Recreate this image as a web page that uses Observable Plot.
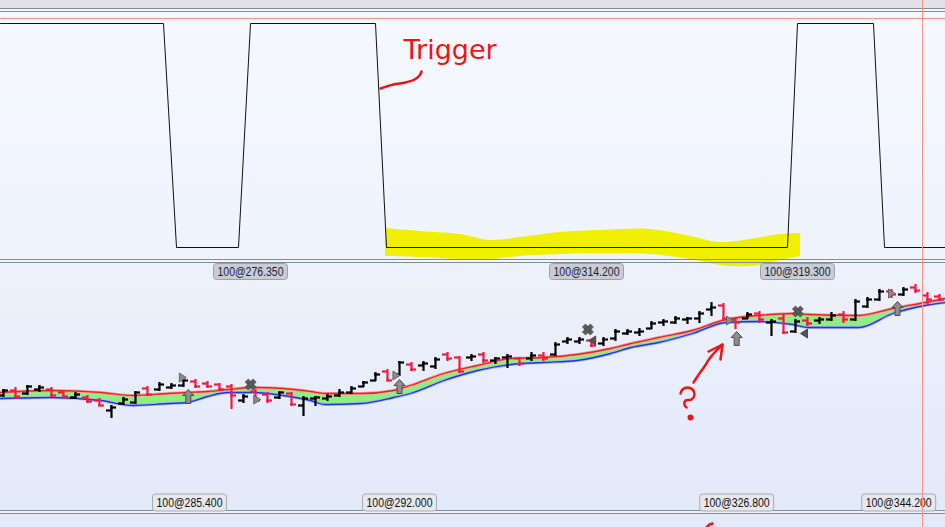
<!DOCTYPE html>
<html><head><meta charset="utf-8">
<script src="https://cdn.jsdelivr.net/npm/d3@7"></script>
<script src="https://cdn.jsdelivr.net/npm/@observablehq/plot@0.6"></script>
<style>
html,body{margin:0;padding:0;background:#e3eaf9;overflow:hidden;}
#wrap{position:relative;width:945px;height:527px;overflow:hidden;background:#e3eaf9;}
.abs{position:absolute;left:0;width:945px;}
.hl{position:absolute;left:0;width:945px;height:1px;background:#7e8e98;}
svg{display:block}
</style></head><body>
<div id="wrap">
 <div class="abs" style="top:0;height:8px;background:#e1e2e8"></div>
 <div class="abs" style="top:9px;height:2px;background:#f5f7fb"></div>
 <div class="abs" style="top:12px;height:247px;background:linear-gradient(#f5f8fe,#eff3fc)"></div>
 <div class="abs" style="top:260px;height:2px;background:#f3f5fa"></div>
 <div class="abs" style="top:263px;height:247px;background:linear-gradient(#edf1fb,#e2e9f9)"></div>
 <div class="abs" style="top:511px;height:2px;background:#eef1f7"></div>
 <div class="abs" style="top:514px;height:13px;background:#e2eaf9"></div>
</div>
<script>
// ---------- top panel: trigger ----------
const triggerT = [0,163,176,238,250,375,386,787,797,873,884,945];
const triggerV = [1,1,0,0,1,1,0,0,1,1,0,0];
const topTickPos = [250,586,797];
const topTickLabels = ["100@276.350","100@314.200","100@319.300"];

// ---------- bottom panel: price bars ----------
const barOpen  = [25,30,27,31,31,28,23,23,20,10, 17,18,32,31,33,35,39,37,36,34, 20,29,26,23,27,15,22,22,25,28, 34,40,49,46,56,55,54,66,63,63, 66,60,63,62,62,65,66,79,79,80, 77,82,87,88,92,98,98,101,102,111, 115,101,102,107,98,102,89,100,100,101, 106,101,114,121,129,126,133,125,124];
const barClose = [30,24,34,33,25,24,26,19,15,13, 21,28,26,36,35,40,34,34,31,25, 24,20,20,28,16,22,23,24,28,32, 38,46,40,58,51,57,61,62,49,64, 60,62,64,57,65,62,76,81,81,75, 81,89,89,89,97,99,102,102,107,113, 102,98,106,101,99,88,99,97,101,105, 101,119,121,129,126,131,130,121,121];
const barHigh  = [31,33,35,35,33,30,28,25,22,15, 23,29,34,38,37,42,41,39,37,36, 26,31,28,29,28,24,24,26,31,34, 39,48,51,59,58,59,63,68,64,66, 68,63,66,63,68,68,78,83,83,81, 83,91,91,92,99,101,104,103,109,118, 117,103,108,109,101,106,101,103,103,108, 109,121,123,131,131,133,136,128,126];
const barLow   = [23,21,25,28,23,22,21,17,14,2, 15,16,24,29,31,33,32,32,29,11, 17,17,17,21,14,4,14,19,23,26, 33,39,39,44,49,49,51,59,47,59, 57,56,52,54,59,59,64,76,76,73, 74,79,85,84,91,94,96,96,97,104, 99,91,101,97,84,86,87,94,96,99, 97,99,112,119,122,124,127,114,119];

const bandI  = [-0.25,3.9,8.1,10.8,13.7,15.3,17.0,18.7,20.8,23.3,25.6,26.8,29.8,32.5,33.9,36.7,39.5,42.3,45.0,47.8,50.6,52.3,54.6,57.4,60.2,62.9,65.8,67.1,71.3,74.1,76.8,78.5];
const bandHi = [28,30,28,25,27,28,29,31,33,32,29,27,27,30,35,47,55,62,63,66,72,77,83,90,101,105,107,106,105,112,118,122];
const bandLo = [22,23,20,15,17,18,24,28,28,25,20,16,17,23,27,40,50,56,58,60,67,73,78,87,98,99,96,93,93,107,115,118];

const arrowI = [15.4,33.0,61.1,74.5];
const arrowP = [24,34,82,112];
const xMarkI = [20.6,48.7,66.2];
const xMarkP = [36,91,109];
const triI   = [14.9,21.1,32.7,49.1,60.5,66.75,74.0];
const triP   = [43,21,45,80,100,87,127];
const triDir = ["r","r","r","l","r","l","r"];

const bottomTickPos = [15.5,33.0,61.1,74.6];
const bottomTickLabels = ["100@285.400","100@292.000","100@326.800","100@344.200"];

// ---------- hand-drawn annotations (page pixels) ----------
const yellowX   = [385,420,460,490,520,560,600,650,690,720,750,780,800];
const yellowTop = [228,231,234,240,237,232,230,229,236,242,239,234,233];
const yellowBot = [256,257,259,259,256,254,253,254,259,265,266,260,256];
const trigCurve = [[380,88],[393,84],[405,82],[414,79],[419,75],[421,71]];
const arrowShaft = [[693,382],[699,373],[704,366],[709,358],[715,351],[722,344]];
const arrowHead = [[708,351],[722,344],[720,359]];
const qHook = [[680,393],[682,389],[687,387],[692,389],[694,394],[691,399],[685,400],[684,404],[686,407]];
const qDot = [[690,417]];
const bottomScribble = [[706,527],[709,524],[712,523]];

// ---------- symbols ----------
function roundBox(w,h,r){return {draw(c){const x0=-w/2,y0=-h/2,x1=w/2,y1=h/2;
  c.moveTo(x0+r,y0);c.lineTo(x1-r,y0);c.arcTo(x1,y0,x1,y0+r,r);c.lineTo(x1,y1-r);c.arcTo(x1,y1,x1-r,y1,r);
  c.lineTo(x0+r,y1);c.arcTo(x0,y1,x0,y1-r,r);c.lineTo(x0,y0+r);c.arcTo(x0,y0,x0+r,y0,r);c.closePath();}};}
const upArrow = {draw(c){c.moveTo(0,-7);c.lineTo(5.5,-1);c.lineTo(2.5,-1);c.lineTo(2.5,7);c.lineTo(-2.5,7);c.lineTo(-2.5,-1);c.lineTo(-5.5,-1);c.closePath();}};
const xSym = {draw(c){const L=5.6,w=2.2,s=Math.SQRT1_2;
  for(const [ax,ay] of [[s,s],[s,-s]]){const px=-ay,py=ax;
    c.moveTo(L*ax+w*px,L*ay+w*py);c.lineTo(L*ax-w*px,L*ay-w*py);c.lineTo(-L*ax-w*px,-L*ay-w*py);c.lineTo(-L*ax+w*px,-L*ay+w*py);c.closePath();}}};
const triRight = {draw(c){c.moveTo(-3,-4.5);c.lineTo(4,0);c.lineTo(-3,4.5);c.closePath();}};
const triLeft  = {draw(c){c.moveTo(3,-4.5);c.lineTo(-4,0);c.lineTo(3,4.5);c.closePath();}};

const wrap = document.getElementById("wrap");
function place(el, top){el.style.position="absolute";el.style.left="0";el.style.top=top+"px";wrap.appendChild(el);}
function hline(top,color){const d=document.createElement("div");d.className="hl";d.style.top=top+"px";if(color)d.style.background=color;wrap.appendChild(d);}
function fitLabels(svg,len){d3.select(svg).selectAll("text").attr("textLength",len).attr("lengthAdjust","spacingAndGlyphs");return svg;}
const bg = {background:"transparent", overflow:"visible"};
const labelFont = "'Liberation Sans',Arial,sans-serif";

// underlay: yellow highlighter
const yellow = yellowX.map((x,k)=>({x, t:yellowTop[k], b:yellowBot[k]}));
place(Plot.plot({width:945,height:527,margin:0,style:bg,
  x:{domain:[0,945],range:[0,945],axis:null}, y:{domain:[0,527],range:[0,527],axis:null},
  marks:[Plot.areaY(yellow,{x:"x",y1:"t",y2:"b",fill:"#f0f000",curve:"catmull-rom"})]}),0);

[8,11,259,262,510,513].forEach(t=>hline(t));

// top plot
const trig = triggerT.map((t,k)=>({t, v:triggerV[k]}));
const topTicks = topTickPos.map((t,k)=>({t, label:topTickLabels[k]}));
place(fitLabels(Plot.plot({width:945,height:270,margin:0,style:bg,
  x:{domain:[0,945],range:[0,945],axis:null}, y:{domain:[0,1],range:[235,11],axis:null},
  marks:[
    Plot.line(trig,{x:"t",y:"v",stroke:"#111",strokeWidth:1}),
    Plot.dot(topTicks,{x:"t",frameAnchor:"bottom",dy:-11,symbol:roundBox(74,16,3),fill:"#c9ccd4",stroke:"#9ba1a9",strokeWidth:1}),
    Plot.text(topTicks,{x:"t",text:"label",frameAnchor:"bottom",lineAnchor:"middle",dy:-11,fontSize:12.5,fill:"#1c1c3c",fontFamily:labelFont})
  ]}),66),12);

// bottom plot
const bars = barOpen.map((o,i)=>({i,o,c:barClose[i],h:barHigh[i],l:barLow[i]}));
const band = bandI.map((i,k)=>({i,hi:bandHi[k],lo:bandLo[k]}));
const arrows = arrowI.map((i,k)=>({i,p:arrowP[k]}));
const xMarks = xMarkI.map((i,k)=>({i,p:xMarkP[k]}));
const tris = triI.map((i,k)=>({i,p:triP[k],d:triDir[k]}));
const bottomTicks = bottomTickPos.map((i,k)=>({i,label:bottomTickLabels[k]}));
const col = d => d.c >= d.o ? "#000000" : "#f41a3f";
const tw = 0.42;
place(fitLabels(Plot.plot({width:945,height:247,margin:0,style:bg,
  x:{domain:[-0.25,78.5],range:[0,945],axis:null}, y:{domain:[-90,157],range:[247,0],axis:null},
  marks:[
    Plot.areaY(band,{x:"i",y1:"lo",y2:"hi",fill:"#8def7e",curve:"monotone-x"}),
    Plot.line(band,{x:"i",y:"hi",stroke:"#f4a0a0",strokeWidth:3,curve:"monotone-x"}),
    Plot.line(band,{x:"i",y:"lo",stroke:"#a8b4f4",strokeWidth:3,curve:"monotone-x"}),
    Plot.line(band,{x:"i",y:"hi",stroke:"#e8261e",strokeWidth:1.3,curve:"monotone-x"}),
    Plot.line(band,{x:"i",y:"lo",stroke:"#1f36e6",strokeWidth:1.3,curve:"monotone-x"}),
    Plot.ruleX(bars,{x:"i",y1:"l",y2:"h",stroke:col,strokeWidth:2.2}),
    Plot.ruleY(bars,{y:"o",x1:d=>d.i-tw,x2:d=>d.i+0.08,stroke:col,strokeWidth:2.2}),
    Plot.ruleY(bars,{y:"c",x1:d=>d.i-0.08,x2:d=>d.i+tw,stroke:col,strokeWidth:2.2}),
    Plot.dot(arrows,{x:"i",y:"p",symbol:upArrow,fill:"#8e8e8e",stroke:"#4a4a4a",strokeWidth:1}),
    Plot.dot(xMarks,{x:"i",y:"p",symbol:xSym,fill:"#5c5c5c",stroke:"#3c3c3c",strokeWidth:0.6}),
    Plot.dot(tris.filter(d=>d.d==="r"),{x:"i",y:"p",symbol:triRight,fill:"#8a8a8a",stroke:"#555",strokeWidth:0.8}),
    Plot.dot(tris.filter(d=>d.d==="l"),{x:"i",y:"p",symbol:triLeft,fill:"#555",stroke:"#333",strokeWidth:0.8}),
    Plot.dot(bottomTicks,{x:"i",frameAnchor:"bottom",dy:-8,symbol:roundBox(74,17,3),fill:"#e6e8ed",stroke:"#a6abb3",strokeWidth:1}),
    Plot.text(bottomTicks,{x:"i",text:"label",frameAnchor:"bottom",lineAnchor:"middle",dy:-8,fontSize:13,fill:"#111",fontFamily:labelFont})
  ]}),66),263);

// overlay: cursor lines and red annotations
const red = "#ee1414";
const px = {x:d=>d[0], y:d=>d[1]};
place(Plot.plot({width:945,height:527,margin:0,style:bg,
  x:{domain:[0,945],range:[0,945],axis:null}, y:{domain:[0,527],range:[0,527],axis:null},
  marks:[
    Plot.ruleY([18],{stroke:"#ff9090",strokeWidth:1,shapeRendering:"crispEdges"}),
    Plot.ruleX([922],{stroke:"#ff9090",strokeWidth:1,shapeRendering:"crispEdges"}),
    Plot.text(["Trigger"],{x:403,y:50,text:d=>d,textAnchor:"start",fontSize:27,fill:red,fontFamily:"'DejaVu Sans',sans-serif"}),
    Plot.line(trigCurve,{...px,stroke:red,strokeWidth:2.5,curve:"catmull-rom",strokeLinecap:"round"}),
    Plot.line(arrowShaft,{...px,stroke:red,strokeWidth:2.5,curve:"catmull-rom",strokeLinecap:"round"}),
    Plot.line(arrowHead,{...px,stroke:red,strokeWidth:2.5,strokeLinecap:"round",strokeLinejoin:"round"}),
    Plot.line(qHook,{...px,stroke:red,strokeWidth:2.5,curve:"catmull-rom",strokeLinecap:"round"}),
    Plot.dot(qDot,{...px,r:3,fill:red}),
    Plot.line(bottomScribble,{...px,stroke:red,strokeWidth:2.5,strokeLinecap:"round"})
  ]}),0);
</script>
</body></html>
